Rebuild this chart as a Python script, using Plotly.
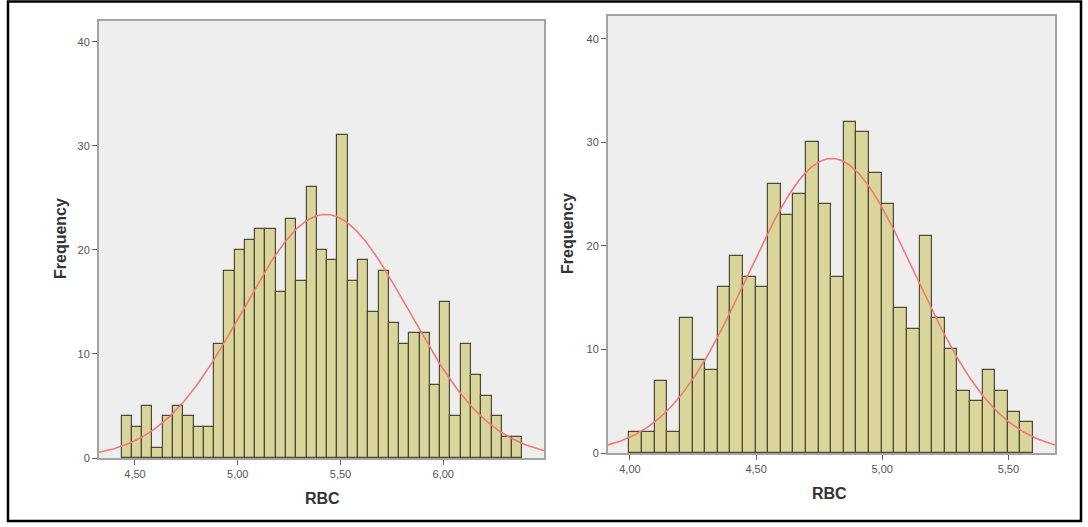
import plotly.graph_objects as go
import numpy as np

W, H = 1088, 527
LAYOUT_H = 533  # compensates the slight vertical squeeze seen in the rendered page

# ---- data ----
left_counts = [4, 3, 5, 1, 4, 5, 4, 3, 3, 11,
               18, 20, 21, 22, 22, 16, 23, 17, 26, 20,
               19, 31, 17, 19, 14, 18, 13, 11, 12, 12,
               7, 15, 4, 11, 8, 6, 4, 2, 2]
left_bin_start = 4.435
left_bin_width = 0.05
left_mean, left_sd = 5.427, 0.403

right_counts = [2, 2, 7, 2, 13, 9, 8, 16, 19, 17,
                16, 26, 23, 25, 30, 24, 17, 32, 31, 27,
                24, 14, 12, 21, 13, 10, 6, 5, 8, 6,
                4, 3]
right_bin_start = 3.998
right_bin_width = 0.05
right_mean, right_sd = 4.80, 0.331

left_xticks = [4.5, 5.0, 5.5, 6.0]
left_xticklabels = ["4,50", "5,00", "5,50", "6,00"]
right_xticks = [4.0, 4.5, 5.0, 5.5]
right_xticklabels = ["4,00", "4,50", "5,00", "5,50"]
y_ticks = [0, 10, 20, 30, 40]

left_xrange = [4.325, 6.490]
right_xrange = [3.913, 5.685]
left_yrange = [0, 42.0]
right_yrange = [0, 42.2]

BAR_FILL = "#d9d59b"
BAR_LINE = "#4d4a38"
CURVE = "#f07a7a"
BG = "#eeeeee"
FRAME = "#a3a3a3"
TICKC = "#666666"


def centers(start, width, n):
    return [start + width * (i + 0.5) for i in range(n)]


def normal_curve(mean, sd, n, width, xr):
    xs = np.linspace(xr[0], xr[1], 300)
    ys = n * width / (sd * np.sqrt(2 * np.pi)) * np.exp(-0.5 * ((xs - mean) / sd) ** 2)
    return xs, ys


fig = go.Figure()

for counts, start, width, mean, sd, xr, xa, ya in [
    (left_counts, left_bin_start, left_bin_width, left_mean, left_sd, left_xrange, "x", "y"),
    (right_counts, right_bin_start, right_bin_width, right_mean, right_sd, right_xrange, "x2", "y2"),
]:
    fig.add_trace(go.Bar(
        x=centers(start, width, len(counts)), y=counts, width=width,
        marker=dict(color=BAR_FILL, line=dict(color=BAR_LINE, width=1.2)),
        xaxis=xa, yaxis=ya, showlegend=False, hoverinfo="skip"))
    cx, cy = normal_curve(mean, sd, sum(counts), width, xr)
    fig.add_trace(go.Scatter(
        x=cx, y=cy, mode="lines", line=dict(color=CURVE, width=1.6),
        xaxis=xa, yaxis=ya, showlegend=False, hoverinfo="skip"))


def px_dom_x(a, b):
    return [a / W, b / W]


def px_dom_y(top, bottom):
    return [(H - bottom) / H, (H - top) / H]


axis_common = dict(showline=True, mirror=True, linecolor=FRAME, linewidth=2,
                   ticks="outside", ticklen=5, tickcolor=TICKC, tickwidth=1,
                   showgrid=False, zeroline=False,
                   tickfont=dict(family="Liberation Sans, Arial, sans-serif", size=11, color="#555555"))

fig.update_layout(
    width=W, height=LAYOUT_H, autosize=False,
    margin=dict(l=0, r=0, t=0, b=0),
    paper_bgcolor="white",
    plot_bgcolor=BG,
    bargap=0,
    xaxis=dict(domain=px_dom_x(99, 544), range=left_xrange, tickvals=left_xticks,
               ticktext=left_xticklabels, anchor="y", **axis_common),
    yaxis=dict(domain=px_dom_y(21, 458), range=left_yrange, tickvals=y_ticks,
               anchor="x", **axis_common),
    xaxis2=dict(domain=px_dom_x(608, 1055), range=right_xrange, tickvals=right_xticks,
                ticktext=right_xticklabels, anchor="y2", **axis_common),
    yaxis2=dict(domain=px_dom_y(16, 453), range=right_yrange, tickvals=y_ticks,
                anchor="x2", **axis_common),
)

title_font = dict(family="Liberation Sans, Arial, sans-serif", size=16, color="#333333")
annots = [
    dict(text="<b>Frequency</b>", x=60 / W, y=(H - 239) / H, textangle=-90),
    dict(text="<b>Frequency</b>", x=568 / W, y=(H - 234) / H, textangle=-90),
    dict(text="<b>RBC</b>", x=322 / W, y=(H - 498) / H, textangle=0),
    dict(text="<b>RBC</b>", x=829 / W, y=(H - 493) / H, textangle=0),
]
for a in annots:
    fig.add_annotation(xref="paper", yref="paper", showarrow=False,
                       xanchor="center", yanchor="middle", font=title_font, **a)

# outer border
fig.add_shape(type="rect", xref="paper", yref="paper",
              x0=8 / W, x1=1081 / W, y0=(H - 521) / H, y1=(H - 1.5) / H,
              line=dict(color="black", width=2.5), fillcolor="rgba(0,0,0,0)", layer="above")

fig.write_html("out.html",
               config={"responsive": False, "displayModeBar": False},
               post_script="document.body.style.margin='0';document.body.style.overflow='hidden';")
